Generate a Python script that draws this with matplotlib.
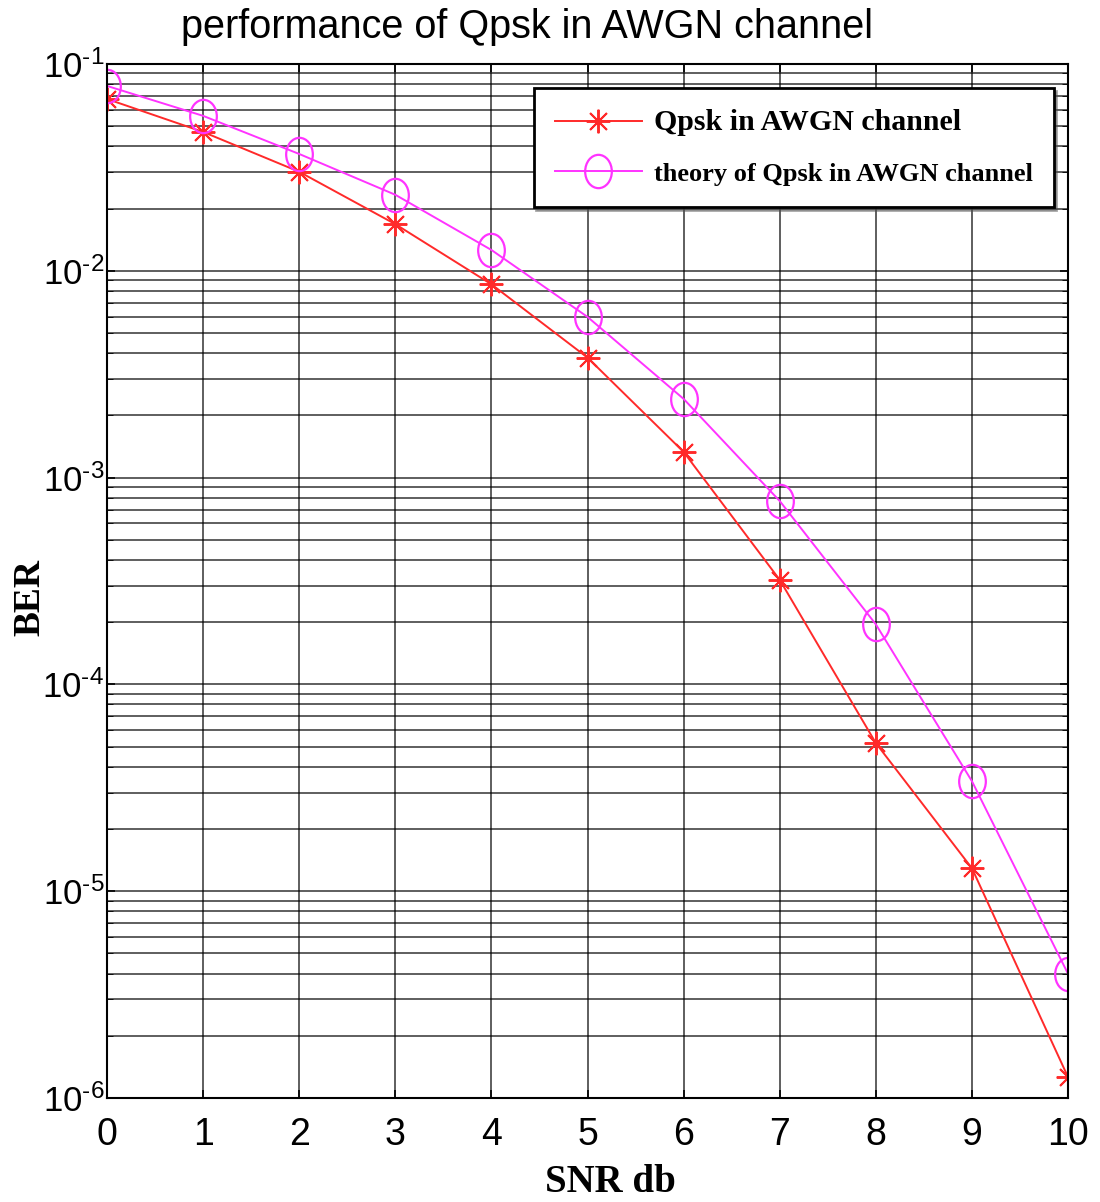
import matplotlib
matplotlib.use('Agg')
import matplotlib.pyplot as plt
import numpy as np
from matplotlib.path import Path
from matplotlib.transforms import Affine2D
from matplotlib.ticker import LogLocator

snr_db = [0, 1, 2, 3, 4, 5, 6, 7, 8, 9, 10]
ber_sim = [0.0677, 0.0469, 0.0301, 0.0168, 0.0086, 0.0038, 0.00133,
           3.2e-4, 5.2e-5, 1.29e-5, 1.26e-6]
ber_theory = [0.0783, 0.0561, 0.0367, 0.0233, 0.0126, 0.00598, 0.0024,
              7.7e-4, 1.95e-4, 3.4e-5, 3.98e-6]
ytick_vals = [1e-6, 1e-5, 1e-4, 1e-3, 1e-2, 1e-1]
ytick_labels = [r'$10^{\text{-}6}$', r'$10^{\text{-}5}$', r'$10^{\text{-}4}$',
                r'$10^{\text{-}3}$', r'$10^{\text{-}2}$', r'$10^{\text{-}1}$']

plt.rcParams['mathtext.fontset'] = 'custom'
plt.rcParams['mathtext.rm'] = 'Liberation Sans'
plt.rcParams['mathtext.it'] = 'Liberation Sans'
plt.rcParams['mathtext.bf'] = 'Liberation Sans:bold'

# ellipse marker (the source image is slightly squashed)
ell = Path.unit_circle().transformed(Affine2D().scale(0.8, 1.0))

fig = plt.figure(figsize=(11, 12.02), dpi=100)
ax = fig.add_axes([0.0973, 0.0865, 0.8737, 0.8603])

ax.plot(snr_db, ber_sim, color='#ff2a2a', lw=1.4, marker=(8, 2, 0), ms=17,
        mew=1.4, label='Qpsk in AWGN channel')
ax.plot(snr_db, ber_theory, color='#ff33ff', lw=1.4, marker=ell, ms=24,
        mfc='none', mew=1.6, label='theory of Qpsk in AWGN channel')

ax.set_yscale('log')
ax.set_xlim(0, 10)
ax.set_ylim(1e-6, 1e-1)
ax.set_xticks(snr_db)
ax.set_yticks(ytick_vals)
ax.set_yticklabels(ytick_labels)
ax.yaxis.set_minor_locator(LogLocator(base=10, subs=np.arange(2, 10)))
ax.yaxis.set_minor_formatter(plt.NullFormatter())

for lab in ax.get_xticklabels():
    lab.set_fontfamily('Liberation Sans')
ax.tick_params(axis='x', which='major', labelsize=27, direction='in',
               length=6, width=1.2, top=True, pad=14)
ax.tick_params(axis='y', which='major', labelsize=25, direction='in',
               length=6, width=1.2, right=True, pad=2)
ax.tick_params(axis='y', which='minor', direction='in', length=4,
               right=True, left=True)

ax.grid(True, which='major', color='black', lw=1.1, alpha=0.8)
ax.grid(True, which='minor', axis='y', color='black', lw=1.1, alpha=0.8)
for sp in ax.spines.values():
    sp.set_linewidth(1.5)
    sp.set_color('black')

fig.text(527 / 1100, 1 - 27 / 1202, 'performance of Qpsk in AWGN channel',
         fontsize=28.5, fontfamily='Liberation Sans', ha='center', va='center')
fig.text(610 / 1100, 1 - 1183 / 1202, 'SNR db', fontsize=28,
         fontfamily='Liberation Serif', fontweight='bold', ha='center', va='center')
fig.text(30 / 1100, 1 - 598 / 1202, 'BER', fontsize=27, rotation=90,
         fontfamily='Liberation Serif', fontweight='bold', ha='center', va='center')

leg = ax.legend(loc='upper right', bbox_to_anchor=(0.985, 0.977), borderaxespad=0,
                prop={'family': 'Liberation Serif', 'weight': 'bold', 'size': 19},
                fancybox=False, shadow=True, framealpha=1,
                borderpad=0.8, labelspacing=1.0, handlelength=3.3,
                handletextpad=0.45)
leg.get_texts()[0].set_fontsize(21.5)
leg.get_frame().set_edgecolor('black')
leg.get_frame().set_linewidth(2.0)

fig.savefig('out.png', dpi=100)
